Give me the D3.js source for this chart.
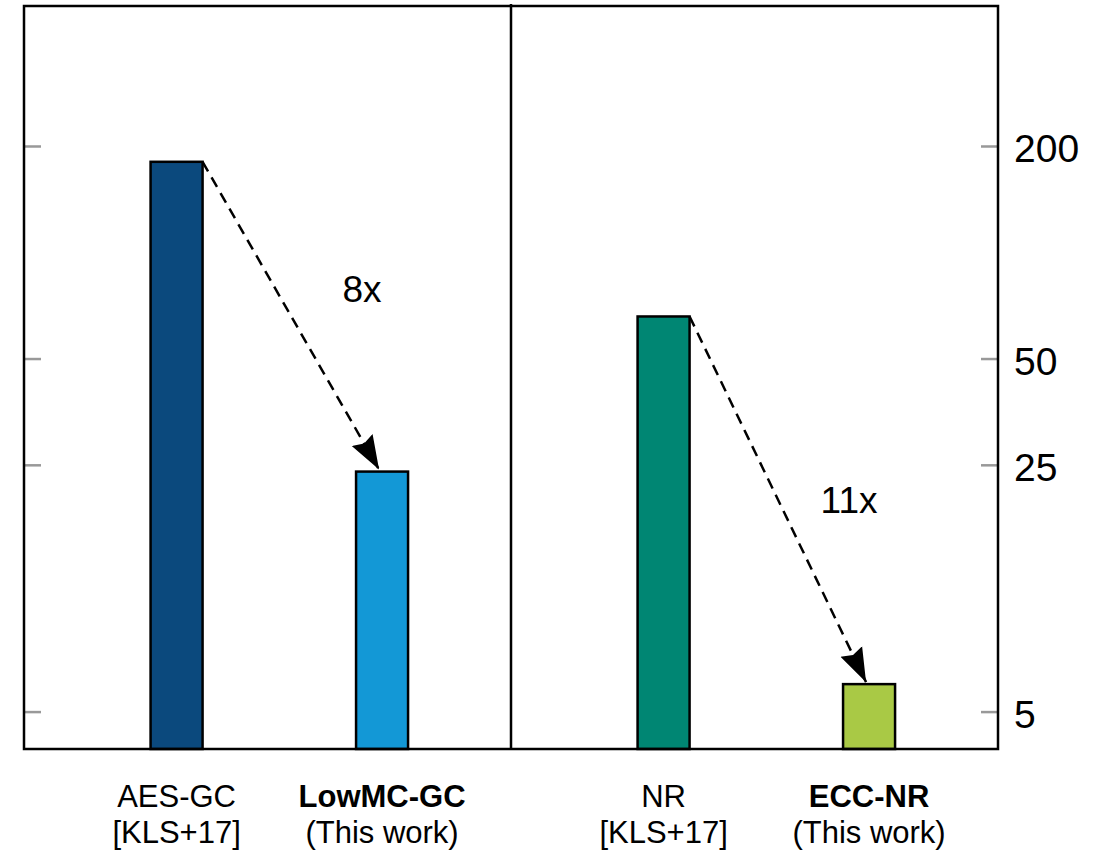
<!DOCTYPE html>
<html>
<head>
<meta charset="utf-8">
<script src="https://cdn.jsdelivr.net/npm/d3@7"></script>
<style>
  body { margin: 0; background: #fff; }
  text { font-family: "Liberation Sans", Arial, sans-serif; }
</style>
</head>
<body>
<div id="chart"></div>
<script>
// groups / bars
const groups = ["GC", "NR"];
const barNames = ["AES-GC", "LowMC-GC", "NR", "ECC-NR"];
const barGroup = ["GC", "GC", "NR", "NR"];
const barSlot = ["old", "new", "old", "new"];
const barValues = [181, 24, 66, 6];
const barColors = ["#0b497d", "#1398d6", "#008673", "#a9c945"];
const labelTop = ["AES-GC", "LowMC-GC", "NR", "ECC-NR"];
const labelBottom = ["[KLS+17]", "(This work)", "[KLS+17]", "(This work)"];
const labelBold = [false, true, false, true];
const speedups = ["8x", "11x"];
const speedupLevel = [79, 20];   // value on the log axis where the label sits
const yTicks = [5, 25, 50, 200];

const W = 1104, H = 854;
const plotL = 24, plotR = 998, plotT = 6, plotB = 749;
const barW = 52;

const svg = d3.select("#chart").append("svg")
  .attr("width", W).attr("height", H);

const xGroup = d3.scaleBand().domain(groups).range([plotL, plotR]);
const xSlot = d3.scalePoint().domain(["old", "new"])
  .range([0, xGroup.bandwidth()]).padding(0.685).align(0.542);
const cx = i => xGroup(barGroup[i]) + xSlot(barSlot[i]);

const y = d3.scaleLog().domain([3.93, 500]).range([plotB, plotT]);

// tick marks on both sides
const gTicks = svg.append("g");
yTicks.forEach(t => {
  gTicks.append("line").attr("x1", plotL).attr("x2", plotL + 17)
    .attr("y1", y(t)).attr("y2", y(t)).attr("stroke", "#999").attr("stroke-width", 2.5);
  gTicks.append("line").attr("x1", plotR - 17).attr("x2", plotR)
    .attr("y1", y(t)).attr("y2", y(t)).attr("stroke", "#999").attr("stroke-width", 2.5);
  gTicks.append("text").attr("x", plotR + 16).attr("y", y(t)).attr("dy", "0.4em")
    .attr("font-size", 39).text(t);
});

// bars
svg.append("g").selectAll("rect")
  .data(barValues)
  .enter().append("rect")
    .attr("x", (d, i) => cx(i) - barW / 2)
    .attr("y", d => y(d))
    .attr("width", barW)
    .attr("height", d => plotB - y(d))
    .attr("fill", (d, i) => barColors[i])
    .attr("stroke", "#000")
    .attr("stroke-width", 2.5);

// frame + divider
svg.append("rect").attr("x", plotL).attr("y", plotT)
  .attr("width", plotR - plotL).attr("height", plotB - plotT)
  .attr("fill", "none").attr("stroke", "#000").attr("stroke-width", 2.5);
svg.append("line").attr("x1", xGroup("NR")).attr("x2", xGroup("NR"))
  .attr("y1", plotT - 2).attr("y2", plotB).attr("stroke", "#000").attr("stroke-width", 2.5);

// arrows
svg.append("defs").append("marker")
  .attr("id", "head")
  .attr("markerUnits", "userSpaceOnUse")
  .attr("viewBox", "0 -13 34 26")
  .attr("refX", 34).attr("refY", 0)
  .attr("markerWidth", 34).attr("markerHeight", 26)
  .attr("orient", "auto")
  .append("path")
    .attr("d", "M0,-12L34,0L0,12L4,0Z")
    .attr("fill", "#000");

[[0, 1], [2, 3]].forEach(([a, b], k) => {
  const x1 = cx(a) + barW / 2, y1 = y(barValues[a]);
  const x2 = cx(b) - 3, y2 = y(barValues[b]) - 2;
  svg.append("line")
    .attr("x1", x1).attr("y1", y1).attr("x2", x2).attr("y2", y2)
    .attr("stroke", "#000").attr("stroke-width", 2.5)
    .attr("stroke-dasharray", "11,7")
    .attr("marker-end", "url(#head)");
  svg.append("text")
    .attr("x", cx(b) - 20).attr("y", y(speedupLevel[k]))
    .attr("dy", "0.36em")
    .attr("text-anchor", "middle").attr("font-size", 37)
    .text(speedups[k]);
});

// category labels
barNames.forEach((n, i) => {
  svg.append("text").attr("x", cx(i)).attr("y", 807)
    .attr("text-anchor", "middle").attr("font-size", 31)
    .attr("font-weight", labelBold[i] ? "bold" : "normal")
    .text(labelTop[i]);
  svg.append("text").attr("x", cx(i)).attr("y", 843)
    .attr("text-anchor", "middle").attr("font-size", 31)
    .text(labelBottom[i]);
});
</script>
</body>
</html>
